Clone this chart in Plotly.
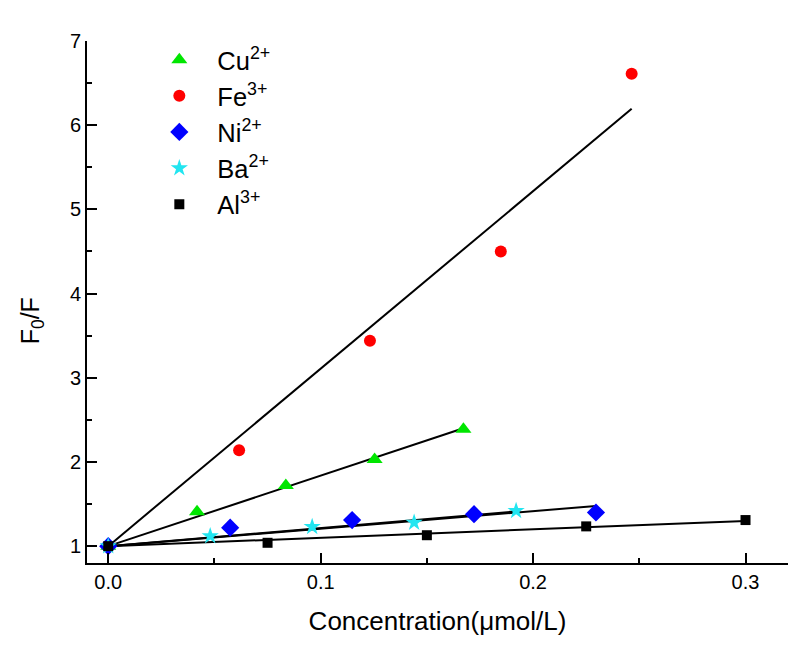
import numpy as np
import plotly.graph_objects as go

# ---- data ----
cu_x = [0.0, 0.0418, 0.0836, 0.1254, 0.1672]
cu_y = [1.00, 1.41, 1.72, 2.03, 2.39]

fe_x = [0.0, 0.0616, 0.1232, 0.1848, 0.2464]
fe_y = [1.00, 2.14, 3.44, 4.50, 6.61]

ni_x = [0.0, 0.0574, 0.1148, 0.1722, 0.2296]
ni_y = [1.00, 1.22, 1.31, 1.38, 1.40]

ba_x = [0.0, 0.048, 0.096, 0.144, 0.192]
ba_y = [1.00, 1.12, 1.23, 1.28, 1.42]

al_x = [0.0, 0.075, 0.150, 0.225, 0.300]
al_y = [1.00, 1.04, 1.13, 1.235, 1.31]

names = ["Cu<sup>2+</sup>", "Fe<sup>3+</sup>", "Ni<sup>2+</sup>", "Ba<sup>2+</sup>", "Al<sup>3+</sup>"]
x_ticks = [0.0, 0.1, 0.2, 0.3]
y_ticks = [1, 2, 3, 4, 5, 6, 7]
x_title = "Concentration(μmol/L)"
y_title = "F<sub>0</sub>/F"

series = [
    (cu_x, cu_y, names[0], "#00e600", "triangle-up", 14),
    (fe_x, fe_y, names[1], "#ff0000", "circle", 12),
    (ni_x, ni_y, names[2], "#0000ff", "diamond", 14),
    (ba_x, ba_y, names[3], "#22e5f0", "star", 13),
    (al_x, al_y, names[4], "#000000", "square", 10),
]

fig = go.Figure()

# Stern-Volmer fits (intercept fixed at 1), computed from the data
for xs, ys, name, color, sym, size in series:
    xa = np.array(xs)
    ya = np.array(ys)
    k = float(np.sum(xa * (ya - 1)) / np.sum(xa * xa))
    xl = [0.0, float(xa.max())]
    yl = [1 + k * v for v in xl]
    fig.add_trace(go.Scatter(x=xl, y=yl, mode="lines",
                             line=dict(color="black", width=2),
                             showlegend=False, hoverinfo="skip"))

for xs, ys, name, color, sym, size in series:
    fig.add_trace(go.Scatter(x=xs, y=ys, mode="markers", name=name,
                             marker=dict(color=color, symbol=sym, size=size,
                                         line=dict(width=0))))

font_family = "Liberation Sans, Arial, sans-serif"

# page body has an 8px default margin, so the figure is 8px smaller
fig.update_layout(
    width=790, height=652,
    margin=dict(l=79, r=10, t=33, b=97),
    paper_bgcolor="white", plot_bgcolor="white",
    font=dict(family=font_family, color="black", size=20),
    legend=dict(x=0.0775, y=1.0085, xanchor="left", yanchor="top",
                font=dict(size=25.5), bgcolor="rgba(0,0,0,0)",
                tracegroupgap=0, itemwidth=66),
    xaxis=dict(range=[-0.01, 0.32], tickvals=x_ticks, tickformat=".1f",
               automargin=False,
               showgrid=False, zeroline=False, showline=True,
               linecolor="black", linewidth=2,
               ticks="inside", ticklen=10, tickwidth=2, tickcolor="black",
               minor=dict(dtick=0.05, ticks="inside", ticklen=5, tickwidth=2,
                          tickcolor="black", showgrid=False),
               tickfont=dict(size=20),
               title=dict(text=x_title, font=dict(size=26), standoff=20)),
    yaxis=dict(range=[0.8, 7], tickvals=y_ticks,
               automargin=False,
               showgrid=False, zeroline=False, showline=True,
               linecolor="black", linewidth=2,
               ticks="inside", ticklen=10, tickwidth=2, tickcolor="black",
               minor=dict(dtick=0.5, ticks="inside", ticklen=5, tickwidth=2,
                          tickcolor="black", showgrid=False),
               tickfont=dict(size=20)),
    annotations=[dict(text=y_title, textangle=-90, showarrow=False,
                      xref="paper", x=-55 / 701, xanchor="center",
                      yref="y", y=3.67, yanchor="middle",
                      font=dict(size=25))],
)

fig.write_html("out.html")
